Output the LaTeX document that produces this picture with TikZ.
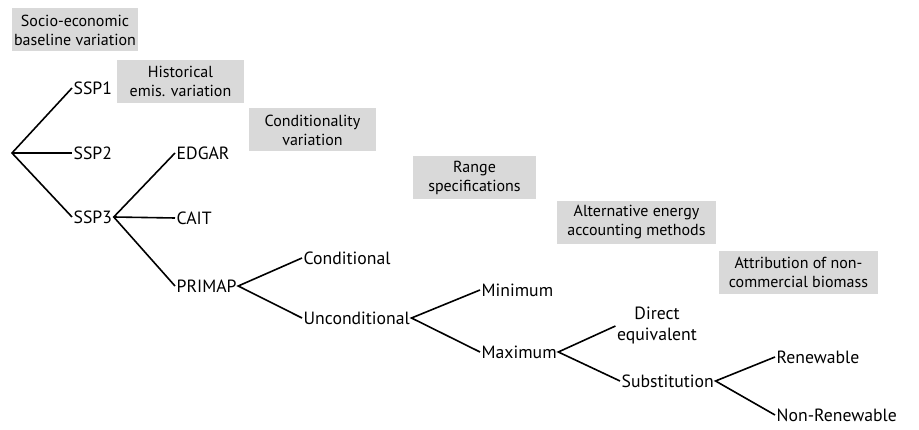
\documentclass[tikz,border=0pt]{standalone}
\usepackage{fontspec}
\setmainfont{PT Sans}
\definecolor{boxgray}{RGB}{217,217,217}
\begin{document}
\begin{tikzpicture}[x=1pt,y=-1pt,
  lbl/.style={font=\fontsize{17.7}{21}\selectfont, inner sep=1.5pt, anchor=west, text height=12.3pt, text depth=0pt},
  cat/.style={fill=boxgray, font=\fontsize{16}{19}\selectfont, align=center, inner sep=0pt, minimum height=43pt},
  br/.style={line width=1.6pt}]
\useasboundingbox (0,0) rectangle (919,430);
% category boxes
\node[cat, minimum width=126pt] (c1) at (75,30) {Socio-economic\\baseline variation};
\node[cat, minimum width=127pt] (c2) at (180.5,81.5) {Historical\\emis. variation};
\node[cat, minimum width=127pt] (c3) at (312.5,130) {Conditionality\\variation};
\node[cat, minimum width=123pt] (c4) at (474.5,177.5) {Range\\specifications};
\node[cat, minimum width=159pt] (c5) at (636.5,222.5) {Alternative energy\\accounting methods};
\node[cat, minimum width=159pt] (c6) at (798.5,272.5) {Attribution of non-\\commercial biomass};
% tree
\coordinate (root) at (12,153);
\node[lbl] (ssp1) at (72,88) {SSP1};
\node[lbl] (ssp2) at (72,153) {SSP2};
\node[lbl] (ssp3) at (72,217) {SSP3};
\node[lbl] (edgar) at (175,153) {EDGAR};
\node[lbl] (cait) at (175,218) {CAIT};
\node[lbl] (primap) at (175,286) {PRIMAP};
\node[lbl] (cond) at (302,258) {Conditional};
\node[lbl] (uncond) at (302,318) {Unconditional};
\node[lbl] (min) at (480,290) {Minimum};
\node[lbl] (max) at (480,352) {Maximum};
\node[font=\fontsize{17.7}{21}\selectfont, align=center, inner sep=1.5pt] (direq) at (657,326) {Direct\\equivalent};
\node[lbl] (subst) at (620,381) {Substitution};
\node[lbl] (ren) at (775,357) {Renewable};
\node[lbl] (nonren) at (775,415) {Non-Renewable};
\draw[br] (ssp1.west) -- (root) -- (ssp3.west);
\draw[br] (root) -- (ssp2.west);
\draw[br] (edgar.west) -- (ssp3.east) -- (primap.west);
\draw[br] (ssp3.east) -- (cait.west);
\draw[br] (cond.west) -- (primap.east) -- (uncond.west);
\draw[br] (min.west) -- (uncond.east) -- (max.west);
\draw[br] (direq.west) -- (max.east) -- (subst.west);
\draw[br] (ren.west) -- (subst.east) -- (nonren.west);
\end{tikzpicture}
\end{document}
